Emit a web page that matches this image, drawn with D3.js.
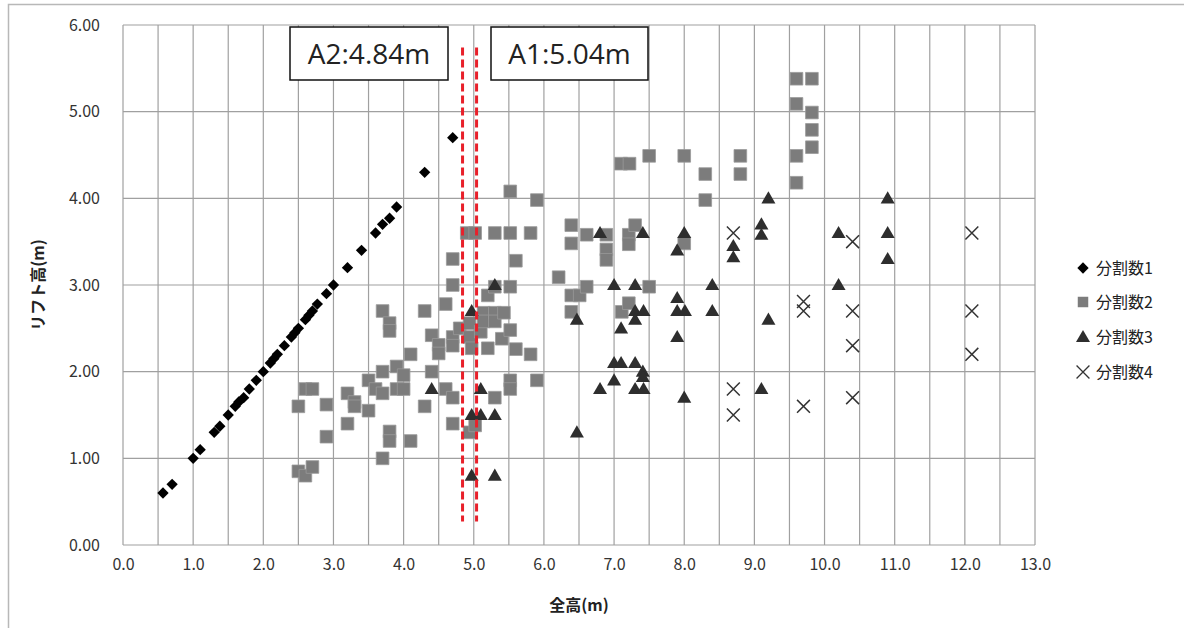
<!DOCTYPE html>
<html><head><meta charset="utf-8">
<script src="https://cdn.jsdelivr.net/npm/d3@7"></script>
<style>body{margin:0;background:#fff}svg{display:block}</style>
</head><body>
<svg id="c" width="1184" height="628"></svg>
<script>
const seriesNames = ["分割数1","分割数2","分割数3","分割数4"];
const xTicks = [0,1,2,3,4,5,6,7,8,9,10,11,12,13];
const yTicks = [0,1,2,3,4,5,6];
const xLabel = "全高(m)";
const yLabel = "リフト高(m)";
const refLines = [{x:4.84,label:"A2:4.84m"},{x:5.04,label:"A1:5.04m"}];

const s1 = [[0.57,0.6],[0.7,0.7],[1.0,1.0],[1.1,1.1],[1.3,1.3],[1.38,1.37],[1.5,1.5],[1.6,1.6],[1.65,1.65],[1.72,1.7],[1.8,1.8],[1.9,1.9],[2.0,2.0],[2.1,2.1],[2.15,2.15],[2.2,2.2],[2.3,2.3],[2.4,2.4],[2.45,2.45],[2.5,2.5],[2.6,2.6],[2.65,2.65],[2.7,2.7],[2.77,2.78],[2.9,2.9],[3.0,3.0],[3.2,3.2],[3.4,3.4],[3.6,3.6],[3.7,3.7],[3.8,3.77],[3.9,3.9],[4.3,4.3],[4.7,4.7]];
const s2 = [[2.5,0.85],[2.6,0.8],[2.7,0.9],[2.5,1.6],[2.6,1.8],[2.7,1.8],[2.9,1.62],[2.9,1.25],[3.2,1.75],[3.2,1.4],[3.3,1.65],[3.3,1.6],[3.5,1.55],[3.5,1.9],[3.6,1.8],[3.7,1.75],[3.7,2.0],[3.7,2.7],[3.7,1.0],[3.8,2.56],[3.8,2.47],[3.8,1.31],[3.8,1.2],[3.9,1.8],[3.9,2.06],[4.0,1.96],[4.0,1.8],[4.1,2.2],[4.1,1.2],[4.3,2.7],[4.3,1.6],[4.4,2.42],[4.4,2.0],[4.5,2.31],[4.5,2.21],[4.6,2.78],[4.6,1.8],[4.7,3.3],[4.7,3.0],[4.7,2.4],[4.7,2.3],[4.7,1.7],[4.7,1.4],[4.8,2.5],[4.9,3.6],[4.94,2.56],[4.94,2.4],[4.94,1.3],[5.02,3.6],[4.97,2.27],[5.02,1.38],[5.1,2.46],[5.14,2.68],[5.14,2.58],[5.2,2.88],[5.2,2.27],[5.3,3.6],[5.3,2.98],[5.3,2.68],[5.3,2.58],[5.3,1.7],[5.43,2.68],[5.4,2.38],[5.52,4.08],[5.52,3.6],[5.52,2.98],[5.52,2.48],[5.52,1.9],[5.52,1.8],[5.6,3.28],[5.6,2.26],[5.81,3.6],[5.81,2.2],[5.9,3.98],[5.9,1.9],[6.21,3.09],[6.39,3.69],[6.39,3.48],[6.39,2.88],[6.39,2.69],[6.51,2.88],[6.61,3.58],[6.61,2.98],[6.89,3.58],[6.89,3.41],[6.89,3.29],[7.1,4.4],[7.22,4.4],[7.11,2.69],[7.21,3.58],[7.21,3.47],[7.21,2.79],[7.3,3.69],[7.5,4.49],[7.5,2.98],[8.0,4.49],[8.0,3.48],[8.3,4.28],[8.3,3.98],[8.8,4.49],[8.8,4.28],[9.6,5.38],[9.82,5.38],[9.6,5.09],[9.82,4.99],[9.82,4.79],[9.82,4.59],[9.6,4.49],[9.6,4.18]];
const s3 = [[4.4,1.8],[4.97,0.8],[4.97,1.5],[4.97,2.7],[5.1,1.8],[5.1,1.5],[5.3,3.0],[5.3,1.5],[5.3,0.8],[6.47,2.6],[6.47,1.3],[6.8,3.6],[6.8,1.8],[7.0,3.0],[7.0,2.1],[7.0,1.9],[7.1,2.5],[7.1,2.1],[7.3,3.0],[7.3,2.7],[7.3,2.6],[7.3,2.1],[7.3,1.8],[7.41,3.6],[7.42,2.7],[7.41,2.0],[7.41,1.94],[7.42,1.8],[7.9,3.4],[7.9,2.85],[7.9,2.7],[7.9,2.4],[8.0,3.6],[8.01,2.7],[8.0,1.7],[8.4,3.0],[8.4,2.7],[8.7,3.45],[8.7,3.32],[9.1,3.7],[9.1,3.58],[9.1,1.8],[9.2,4.0],[9.2,2.6],[10.2,3.6],[10.2,3.0],[10.9,4.0],[10.9,3.6],[10.9,3.3]];
const s4 = [[8.7,3.6],[8.7,1.8],[8.7,1.5],[9.7,2.81],[9.7,2.7],[9.7,1.6],[10.4,3.5],[10.4,2.7],[10.4,2.3],[10.4,1.7],[12.1,3.6],[12.1,2.7],[12.1,2.2]];

const svg = d3.select("#c");
const m = {l:123, t:25, r:1035, b:545};
const x = d3.scaleLinear().domain([0,13]).range([m.l,m.r]);
const y = d3.scaleLinear().domain([0,6]).range([m.b,m.t]);
const font = "'Noto Sans CJK JP','Noto Sans',sans-serif";

// outer frame
svg.append("rect").attr("x",8.5).attr("y",4.5).attr("width",1200).attr("height",700)
  .attr("fill","#fff").attr("stroke","#b8b8b8").attr("stroke-width",1.5);

// grid
const gx = d3.range(0,13.01,0.5);
svg.append("g").selectAll("line").data(gx).join("line")
  .attr("x1",d=>x(d)).attr("x2",d=>x(d)).attr("y1",y(0)).attr("y2",y(6))
  .attr("stroke","#a0a0a0").attr("stroke-width",1.2);
svg.append("g").selectAll("line").data(yTicks).join("line")
  .attr("x1",x(0)).attr("x2",x(13)).attr("y1",d=>y(d)).attr("y2",d=>y(d))
  .attr("stroke","#a0a0a0").attr("stroke-width",1.2);

// axes
const xa = svg.append("g").attr("transform",`translate(0,${m.b})`)
  .call(d3.axisBottom(x).tickValues(xTicks).tickFormat(d3.format(".1f")).tickSize(0).tickPadding(14));
const ya = svg.append("g").attr("transform",`translate(${m.l},0)`)
  .call(d3.axisLeft(y).tickValues(yTicks).tickFormat(d3.format(".2f")).tickSize(0).tickPadding(23));
[xa,ya].forEach(a=>{a.select(".domain").remove();
  a.selectAll("text").attr("font-family",font).attr("font-size",16).attr("fill","#333");});

svg.append("text").attr("x",x(6.5)).attr("y",611).attr("text-anchor","middle")
  .attr("font-family",font).attr("font-size",16).attr("font-weight","bold").attr("fill","#222").text(xLabel);
svg.append("text").attr("transform",`translate(44,${y(3)}) rotate(-90)`).attr("text-anchor","middle")
  .attr("font-family",font).attr("font-size",16).attr("font-weight","bold").attr("fill","#222").text(yLabel);

// markers
const sym = {
  diamond: d3.symbol().type(d3.symbolSquare).size(64),
  square: d3.symbol().type(d3.symbolSquare).size(160),
  tri: d3.symbol().type(d3.symbolTriangle).size(85),
  cross: d3.symbol().type(d3.symbolX).size(110)
};
svg.append("g").selectAll("path").data(s1).join("path")
  .attr("d",sym.diamond).attr("transform",d=>`translate(${x(d[0])},${y(d[1])}) rotate(45)`).attr("fill","#000");
svg.append("g").selectAll("path").data(s2).join("path")
  .attr("d",sym.square).attr("transform",d=>`translate(${x(d[0])},${y(d[1])})`)
  .attr("fill","#7c7c7c").attr("stroke","#999").attr("stroke-width",0.8);
svg.append("g").selectAll("path").data(s3).join("path")
  .attr("d",sym.tri).attr("transform",d=>`translate(${x(d[0])},${y(d[1])+1})`).attr("fill","#2e2e2e");
svg.append("g").selectAll("path").data(s4).join("path")
  .attr("d",sym.cross).attr("transform",d=>`translate(${x(d[0])},${y(d[1])})`)
  .attr("fill","none").attr("stroke","#333").attr("stroke-width",1.5);

// red reference lines
svg.append("g").selectAll("line").data(refLines).join("line")
  .attr("x1",d=>x(d.x)).attr("x2",d=>x(d.x)).attr("y1",y(5.74)).attr("y2",y(0.27))
  .attr("stroke","#e8202a").attr("stroke-width",3).attr("stroke-dasharray","8,4");

// annotation boxes
const boxes = [{r:refLines[0], x0:290, x1:448},{r:refLines[1], x0:491, x1:648}];
boxes.forEach(b=>{
  svg.append("rect").attr("x",b.x0).attr("y",27).attr("width",b.x1-b.x0).attr("height",53)
    .attr("fill","#fff").attr("stroke","#111").attr("stroke-width",1.5);
  svg.append("text").attr("x",(b.x0+b.x1)/2).attr("y",64).attr("text-anchor","middle")
    .attr("font-family","'Open Sans','Liberation Sans',sans-serif").attr("font-size",28).attr("fill","#222").text(b.r.label);
});

// legend
const legY = [268,302,337,372];
const lg = svg.append("g");
seriesNames.forEach((n,i)=>{
  const cx = 1083, cy = legY[i];
  const keys = ["diamond","square","tri","cross"];
  const p = lg.append("path").attr("d", i===1 ? d3.symbol().type(d3.symbolSquare).size(110)() : sym[keys[i]]());
  if(i===0) p.attr("transform",`translate(${cx},${cy}) rotate(45)`).attr("fill","#000");
  if(i===1) p.attr("transform",`translate(${cx},${cy})`).attr("fill","#7c7c7c");
  if(i===2) p.attr("transform",`translate(${cx},${cy+1})`).attr("fill","#2e2e2e");
  if(i===3) p.attr("transform",`translate(${cx},${cy})`).attr("fill","none").attr("stroke","#333").attr("stroke-width",1.3);
  lg.append("text").attr("x",1096).attr("y",cy+6).attr("font-family",font).attr("font-size",16).attr("fill","#222").text(n);
});
</script>
</body></html>
